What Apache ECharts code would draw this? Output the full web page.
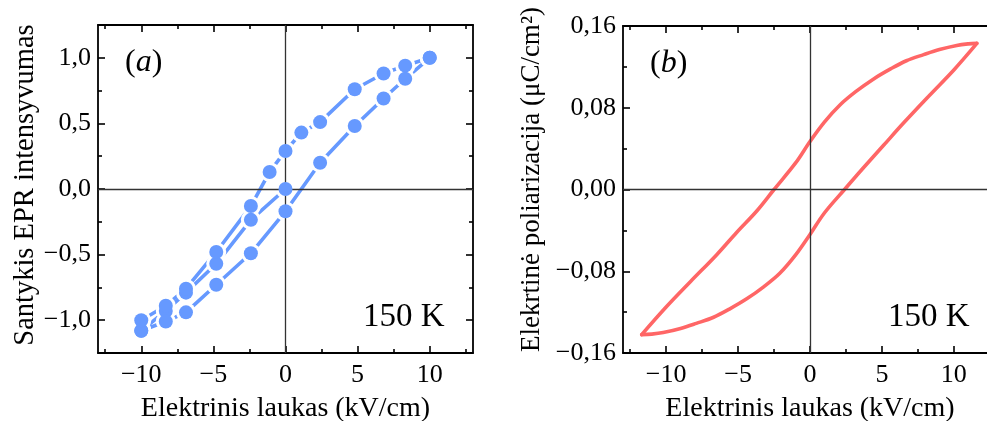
<!DOCTYPE html>
<html>
<head>
<meta charset="utf-8">
<script src="https://cdn.jsdelivr.net/npm/echarts@6/dist/echarts.min.js"></script>
<style>
  html, body { margin: 0; padding: 0; background: #ffffff; }
  #chart { width: 987px; height: 421px; }
</style>
</head>
<body>
<div id="chart"></div>
<script>
// ---- Panel (a): EPR intensity ratio vs electric field (measured points) ----
// first sweep from 0 towards negative field
const eprInitX = [0, -2.4, -4.8, -6.9, -8.3, -10];
const eprInitY = [0, -0.235, -0.57, -0.79, -0.93, -1.08];
// rising branch, -10 -> +10 kV/cm
const eprRiseX = [-10, -8.3, -6.9, -4.8, -2.4, 0, 2.4, 4.8, 6.8, 8.3, 10];
const eprRiseY = [-1.08, -1.01, -0.94, -0.73, -0.49, -0.17, 0.20, 0.48, 0.69, 0.84, 1.0];
// falling branch, +10 -> -10 kV/cm
const eprFallX = [10, 8.3, 6.8, 4.8, 2.4, 1.1, 0, -1.1, -2.4, -4.8, -6.9, -8.3, -10];
const eprFallY = [1.0, 0.94, 0.88, 0.76, 0.51, 0.43, 0.29, 0.13, -0.13, -0.48, -0.76, -0.89, -1.0];

// ---- Panel (b): P–E hysteresis loop ----
const loopUpperX = [11.6, 11.0, 10.2, 9.0, 7.9, 6.7, 5.6, 4.4, 3.2, 2.1, 1.0, 0, -1.0, -2.5, -3.7, -5.1, -6.5, -8.3, -10.0, -11.7];
const loopUpperY = [0.143, 0.1425, 0.141, 0.137, 0.132, 0.126, 0.118, 0.108, 0.096, 0.083, 0.066, 0.047, 0.026, 0, -0.021, -0.042, -0.064, -0.090, -0.115, -0.142];
const loopLowerX = [-11.7, -11.0, -10.2, -9.0, -7.9, -6.7, -5.6, -4.4, -3.2, -2.1, -1.0, 0, 1.0, 2.4, 3.7, 5.1, 6.5, 8.3, 10.0, 11.6];
const loopLowerY = [-0.142, -0.1415, -0.140, -0.136, -0.131, -0.125, -0.117, -0.107, -0.095, -0.082, -0.064, -0.044, -0.023, 0, 0.021, 0.043, 0.065, 0.092, 0.117, 0.143];

// ---- ticks ----
const fieldMajor = [-10, -5, 0, 5, 10];
const fieldMinor = [-12.5, -7.5, -2.5, 2.5, 7.5, 12.5];
const eprMajor = [-1, -0.5, 0, 0.5, 1];
const eprMinor = [-0.75, -0.25, 0.25, 0.75];
const polMajor = [-0.16, -0.08, 0, 0.08, 0.16];
const polMinor = [-0.12, -0.04, 0.04, 0.12];

const FONT = "'Liberation Serif', 'Times New Roman', Times, serif";
const BLUE = '#6699ff';
const RED = '#ff6666';
const INK = '#000000';

function pairs(xs, ys) { return xs.map((x, i) => [x, ys[i]]); }
function fmt(v, digits) {
  const s = Math.abs(v).toFixed(digits).replace('.', ',');
  return (v < 0 ? '\u2212' : '') + s;
}

// one axis: frame line + inward ticks at the given values
function axis(gridIndex, opts) {
  const a = {
    type: 'value',
    gridIndex: gridIndex,
    min: opts.min, max: opts.max,
    position: opts.position,
    splitLine: { show: false },
    axisLine: { show: opts.line, onZero: false, lineStyle: { color: INK, width: 1.8 } },
    axisTick: { show: true, inside: true, length: opts.tickLen, customValues: opts.ticks,
                lineStyle: { color: INK, width: 1.6 } },
    axisLabel: { show: false }
  };
  if (opts.labels) {
    a.axisLabel = {
      show: true, customValues: opts.labels, margin: opts.margin,
      fontFamily: FONT, fontSize: 26, color: INK,
      formatter: v => fmt(v, opts.digits)
    };
  }
  if (opts.name) {
    a.name = opts.name;
    a.nameLocation = 'middle';
    a.nameGap = opts.nameGap;
    a.nameTextStyle = { fontFamily: FONT, fontSize: opts.nameSize, color: INK,
                        padding: opts.namePad || 0 };
  }
  return a;
}

function panelAxes(g, xr, yr, yMajor, yMinor, yDigits, yName, yNameGap, yNameSize, yNamePad) {
  const xs = [
    axis(g, { min: xr[0], max: xr[1], position: 'bottom', line: true, tickLen: 7, ticks: fieldMajor,
              labels: fieldMajor, digits: 0, margin: 9,
              name: 'Elektrinis laukas (kV/cm)', nameGap: 42, nameSize: 28 }),
    axis(g, { min: xr[0], max: xr[1], position: 'top', line: true, tickLen: 7, ticks: fieldMajor }),
    axis(g, { min: xr[0], max: xr[1], position: 'bottom', line: false, tickLen: 4, ticks: fieldMinor }),
    axis(g, { min: xr[0], max: xr[1], position: 'top', line: false, tickLen: 4, ticks: fieldMinor })
  ];
  const ys = [
    axis(g, { min: yr[0], max: yr[1], position: 'left', line: true, tickLen: 7, ticks: yMajor,
              labels: yMajor, digits: yDigits, margin: 7,
              name: yName, nameGap: yNameGap, nameSize: yNameSize, namePad: yNamePad }),
    axis(g, { min: yr[0], max: yr[1], position: 'right', line: true, tickLen: 7, ticks: yMajor }),
    axis(g, { min: yr[0], max: yr[1], position: 'left', line: false, tickLen: 4, ticks: yMinor }),
    axis(g, { min: yr[0], max: yr[1], position: 'right', line: false, tickLen: 4, ticks: yMinor })
  ];
  return { xs, ys };
}

const A = panelAxes(0, [-13, 13], [-1.25, 1.25], eprMajor, eprMinor, 1,
                    'Santykis EPR intensyvumas', 58, 28.5, [0, 0, 0, 8]);
const B = panelAxes(1, [-13, 13], [-0.16, 0.16], polMajor, polMinor, 2,
                    'Elekrtin\u0117 poliarizacija (\u03bcC/cm\u00b2)', 78, 27, [0, 0, 0, 20]);

// zero cross-hair lines
function zeroLines(xi, yi) {
  return {
    type: 'line', xAxisIndex: xi, yAxisIndex: yi, data: [], silent: true, z: 1,
    markLine: {
      silent: true, symbol: 'none', animation: false,
      label: { show: false },
      lineStyle: { color: '#333333', width: 1.3, type: 'solid' },
      data: [{ xAxis: 0 }, { yAxis: 0 }]
    }
  };
}

function eprLine(xs, ys) {
  return {
    type: 'line', xAxisIndex: 0, yAxisIndex: 0, data: pairs(xs, ys),
    showSymbol: false, z: 2, animation: false,
    lineStyle: { color: BLUE, width: 3.6 }
  };
}
// white halo under each marker leaves a small gap where segments meet the dots
function eprDots(xs, ys, size, color, z) {
  return {
    type: 'scatter', xAxisIndex: 0, yAxisIndex: 0, data: pairs(xs, ys),
    symbol: 'circle', symbolSize: size, z: z, animation: false,
    itemStyle: { color: color, opacity: 1 }
  };
}
function loopLine(xs, ys) {
  return {
    type: 'line', xAxisIndex: 4, yAxisIndex: 4, data: pairs(xs, ys),
    showSymbol: false, smooth: 0.35, z: 3, animation: false,
    lineStyle: { color: RED, width: 3.6, cap: 'round', join: 'round' }
  };
}

function tag(text, left, top, size) {
  return {
    text: text, left: left, top: top,
    textStyle: {
      fontFamily: FONT, fontSize: size, fontWeight: 'normal', color: INK,
      rich: {
        n: { fontFamily: FONT, fontSize: size, color: INK },
        i: { fontFamily: FONT, fontSize: size, fontStyle: 'italic', color: INK }
      }
    }
  };
}

const chart = echarts.init(document.getElementById('chart'), null, { renderer: 'canvas' });
chart.setOption({
  backgroundColor: '#ffffff',
  animation: false,
  grid: [
    { left: 98, top: 25, width: 375, height: 328, containLabel: false, outerBoundsMode: 'none' },
    { left: 623, top: 26, width: 374, height: 327, containLabel: false, outerBoundsMode: 'none' }
  ],
  title: [
    tag('{n|(}{i|a}{n|)}', 120, 42, 32),
    tag('150 K', 358, 296, 33),
    tag('{n|(}{i|b}{n|)}', 645, 43, 32),
    tag('150 K', 883, 296, 33)
  ],
  xAxis: A.xs.concat(B.xs),
  yAxis: A.ys.concat(B.ys),
  series: [
    zeroLines(0, 0),
    eprLine(eprInitX, eprInitY),
    eprLine(eprRiseX, eprRiseY),
    eprLine(eprFallX, eprFallY),
    eprDots(eprInitX.concat(eprRiseX, eprFallX), eprInitY.concat(eprRiseY, eprFallY), 20, '#ffffff', 4),
    eprDots(eprInitX.concat(eprRiseX, eprFallX), eprInitY.concat(eprRiseY, eprFallY), 14, BLUE, 5),
    zeroLines(4, 4),
    loopLine(loopUpperX, loopUpperY),
    loopLine(loopLowerX, loopLowerY)
  ]
});
</script>
</body>
</html>
